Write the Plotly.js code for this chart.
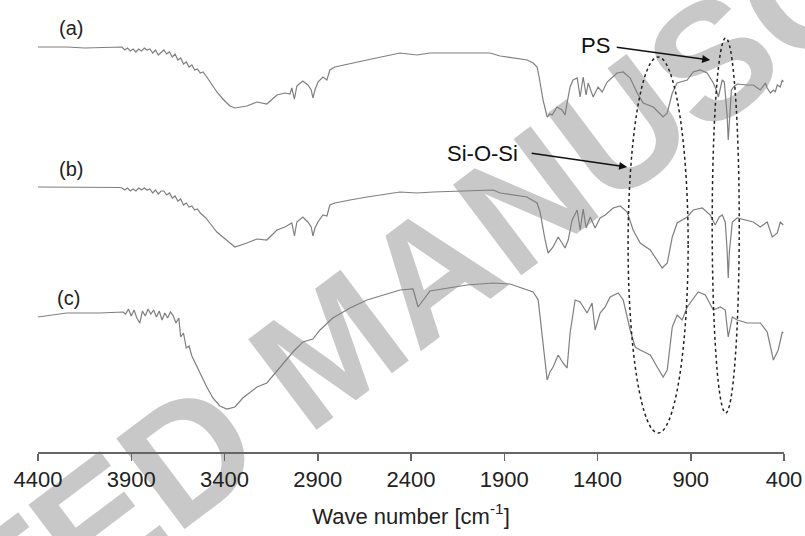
<!DOCTYPE html>
<html>
<head>
<meta charset="utf-8">
<script src="https://cdn.plot.ly/plotly-3.0.1.min.js"></script>
<style>html,body{margin:0;padding:0;background:#fff;}#chart{width:805px;height:536px;}</style>
</head>
<body>
<div id="chart"></div>
<script>
// Wave numbers (cm-1) and offset transmittance (a.u.)
const waveA = [4400,4246,4150,4069,3962,3950,3935,3920,3905,3890,3875,3860,3845,3830,3815,3800,3785,3770,3755,3740,3725,3710,3695,3680,3665,3650,3635,3620,3605,3590,3575,3560,3545,3530,3515,3495,3463,3441,3409,3387,3371,3344,3302,3280,3226,3173,3119,3076,3049,3039,3025,3012,3006,2980,2953,2935,2926,2915,2899,2872,2851,2835,2808,2727,2636,2459,2368,2298,1976,1922,1777,1745,1724,1713,1692,1670,1655,1643,1617,1590,1574,1563,1547,1531,1509,1493,1477,1461,1450,1423,1397,1375,1348,1295,1262,1225,1187,1155,1101,1048,1026,999,973,919,887,849,812,779,763,752,742,731,720,705,699,693,682,670,651,597,565,527,500,490,473,457,447,436,420,409,404];
const transA = [405,405,404,404.5,404.5,405,402,404,401,403,400,403,401,404,402,403,399,402,397,400,402,398,400,395,398,392,394,388,390,385,387,382,383,379,380,375,366,360,353,349,346,344,345,346,350,348,357,359,358,364,353,366,367,371,367,362,354,362,370,375,372,382,385,388,392,399,397,399,399,396,392,389,385,375,352,335,338,337,345,342,337,349,365,372,374,355,375,357,369,355,365,360,370,379,380,374,359,349,345,335,339,359,369,372,380,382,379,369,362,355,364,372,370,337,312,334,362,365,368,367,367,362,369,364,359,362,360,367,365,372,370];

const waveB = [4400,4246,4069,3962,3950,3935,3920,3905,3890,3875,3860,3845,3830,3815,3800,3785,3770,3755,3740,3725,3710,3695,3680,3665,3650,3635,3620,3605,3590,3575,3560,3545,3530,3500,3479,3441,3409,3371,3344,3280,3226,3173,3119,3076,3039,3025,3012,2980,2953,2935,2926,2915,2899,2872,2851,2835,2808,2727,2636,2459,2368,2282,1960,1922,1778,1724,1708,1681,1665,1638,1611,1590,1574,1557,1536,1509,1493,1477,1461,1439,1413,1386,1359,1316,1278,1241,1209,1171,1117,1053,1026,999,973,919,887,838,795,769,747,731,715,705,699,693,677,651,565,527,490,463,436,420,404];
const transB = [265,265,265,264.5,264,262,264,261,263,261,264,262,264,262,263,259,262,258,261,261,257,259,254,256,251,253,247,249,245,246,242,243,239,234,229,220,215,209,205,209,213,212,222,225,229,216,230,235,230,225,216,224,230,237,236,247,249,252,255,260,259,260,262,259,255,249,240,212,199,205,215,209,204,212,232,242,222,243,224,235,224,234,237,244,246,240,222,209,202,184,189,215,229,235,242,244,237,227,235,237,230,202,174,200,230,234,230,225,230,215,219,230,227];

const waveC = [4400,4246,4069,3945,3930,3915,3900,3885,3870,3854,3840,3825,3810,3795,3780,3765,3750,3735,3720,3705,3690,3677,3660,3645,3635,3620,3605,3590,3575,3560,3545,3532,3495,3462,3425,3387,3344,3302,3226,3173,3103,3033,2980,2926,2888,2819,2727,2636,2459,2389,2362,2336,2298,2100,1960,1869,1745,1718,1697,1670,1655,1638,1611,1585,1563,1547,1520,1493,1456,1429,1413,1386,1359,1332,1289,1262,1225,1198,1171,1117,1080,1048,1026,999,973,946,919,860,822,779,742,715,699,677,651,597,527,490,457,431,409,404];
const transC = [135,139,139,140,138,143,136,142,134,129,141,136,143,138,142,135,141,132,139,134,140,137,129,134,115,119,104,106,96,90,84,79,65,54,46,43,45,54,65,69,85,100,110,113,122,134,144,152,162,163,145,152,161,167,169,168,160,152,119,72,80,85,97,89,84,119,152,150,139,149,122,139,145,155,159,152,122,105,102,97,85,75,82,125,137,132,145,160,157,142,145,142,115,135,132,129,129,120,92,102,120,119];

const tickVals = [4400,3900,3400,2900,2400,1900,1400,900,400];
const tickText = ['4400','3900','3400','2900','2400','1900','1400','900','400'];

const lineStyle = {color:'#7f7f7f', width:1.2};
const traces = [
  {x: waveA, y: transA, mode:'lines', line: lineStyle, name:'(a)', hoverinfo:'skip'},
  {x: waveB, y: transB, mode:'lines', line: lineStyle, name:'(b)', hoverinfo:'skip'},
  {x: waveC, y: transC, mode:'lines', line: lineStyle, name:'(c)', hoverinfo:'skip'}
];

const baseFont = 'Liberation Sans, Arial, sans-serif';
const layout = {
  width: 805, height: 536,
  margin: {l:38, r:21, t:10, b:84},
  paper_bgcolor:'#ffffff', plot_bgcolor:'rgba(0,0,0,0)',
  showlegend:false,
  font:{family: baseFont, color:'#222'},
  xaxis:{
    range:[4400,400], tickvals: tickVals, ticktext: tickText,
    ticks:'outside', ticklen:7, tickwidth:1.5, tickcolor:'#666',
    showline:true, linecolor:'#666', linewidth:1.5,
    showgrid:false, zeroline:false,
    tickfont:{family: baseFont, size:22, color:'#222'},
    title:{text:'Wave number [cm<sup>-1</sup>]', font:{family: baseFont, size:22, color:'#222'}, standoff:17}
  },
  yaxis:{visible:false, range:[0,442], fixedrange:true},
  shapes:[
    {type:'rect', xref:'paper', yref:'paper', x0:0.366, x1:0.396, y0:0.252, y1:0.282,
     line:{width:0}, fillcolor:'rgba(0,0,0,0)', layer:'below',
     label:{text:'ACCEPTED MANUSCRIPT', textangle:-37, textposition:'middle center',
            font:{family: baseFont, size:165, color:'#c8c8c8', weight:'bold'}}},
    {type:'circle', xref:'x', yref:'y', x0:1236, x1:914, y0:19, y1:395,
     line:{color:'#222', width:1.5, dash:'dot'}},
    {type:'circle', xref:'x', yref:'y', x0:785, x1:640, y0:39, y1:414,
     line:{color:'#222', width:1.5, dash:'dot'}}
  ],
  annotations:[
    {x:4225, y:424, xref:'x', yref:'y', text:'(a)', showarrow:false, font:{size:20, color:'#222'}},
    {x:4225, y:283, xref:'x', yref:'y', text:'(b)', showarrow:false, font:{size:20, color:'#222'}},
    {x:4235, y:154, xref:'x', yref:'y', text:'(c)', showarrow:false, font:{size:20, color:'#222'}},
    {x:1413, y:407, xref:'x', yref:'y', text:'PS', showarrow:false, font:{size:22, color:'#111'}},
    {x:2019, y:299, xref:'x', yref:'y', text:'Si-O-Si', showarrow:false, font:{size:22, color:'#111'}},
    {x:796, y:392, ax:1305, ay:405, xref:'x', yref:'y', axref:'x', ayref:'y', text:'', showarrow:true,
     arrowhead:2, arrowsize:1, arrowwidth:1.6, arrowcolor:'#111', standoff:0, startstandoff:0},
    {x:1241, y:285, ax:1761, ay:299, xref:'x', yref:'y', axref:'x', ayref:'y', text:'', showarrow:true,
     arrowhead:2, arrowsize:1, arrowwidth:1.6, arrowcolor:'#111', standoff:0, startstandoff:0}
  ]
};

Plotly.newPlot('chart', traces, layout, {staticPlot:true, displayModeBar:false});
</script>
</body>
</html>
